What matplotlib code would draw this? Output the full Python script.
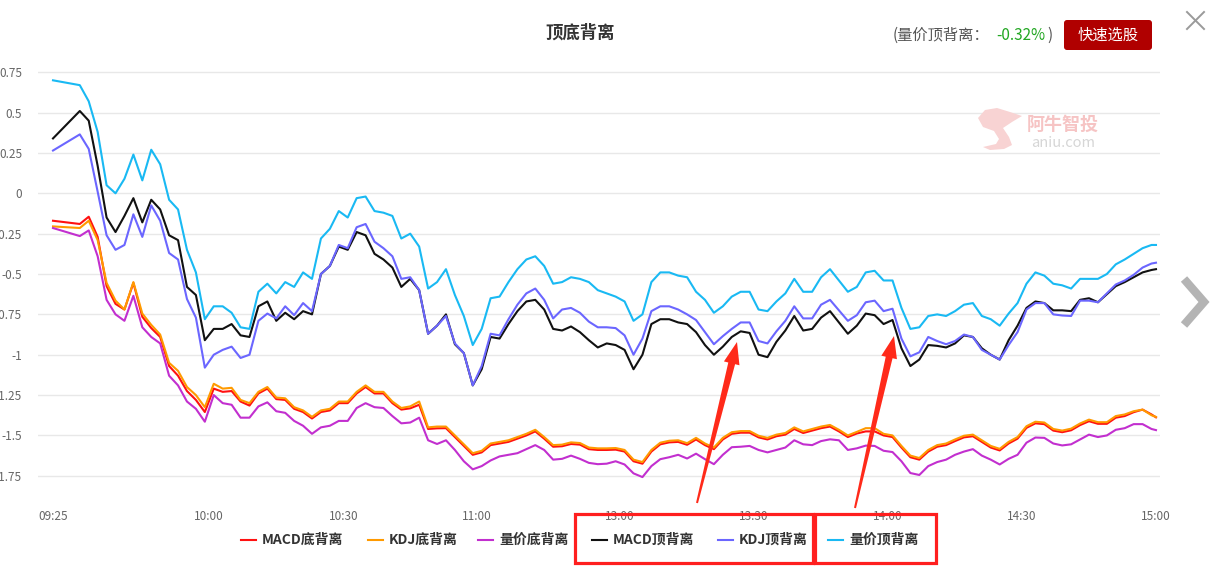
import matplotlib
matplotlib.use("Agg")
import matplotlib.pyplot as plt
from matplotlib.lines import Line2D
from matplotlib.patches import Rectangle, Polygon, FancyBboxPatch
from matplotlib.transforms import Affine2D
import numpy as np

plt.rcParams['font.family'] = ['Noto Sans CJK SC', 'DejaVu Sans']

W, H = 1220, 568

# minutes after 09:25 (the lunch break is squeezed out, 11:30 ~ 13:00)
minutes = [0] + list(range(6, 247, 2)) + [247]
time_ticks = [0, 35, 65, 95, 127, 157, 187, 217, 247]
time_labels = ['09:25', '10:00', '10:30', '11:00', '13:00', '13:30', '14:00', '14:30', '15:00']
y_ticks = [0.75, 0.5, 0.25, 0, -0.25, -0.5, -0.75, -1, -1.25, -1.5, -1.75]
y_labels = ['0.75', '0.5', '0.25', '0', '-0.25', '-0.5', '-0.75', '-1', '-1.25', '-1.5', '-1.75']

series_names = ['MACD底背离', 'KDJ底背离', '量价底背离', 'MACD顶背离', 'KDJ顶背离', '量价顶背离']
series_colors = ['#ff1111', '#ff9a00', '#c22fcf', '#111111', '#6b66ff', '#19b9f3']

macd_bottom = [
    -0.17, -0.19, -0.145, -0.27, -0.575, -0.685, -0.72, -0.555, -0.765, -0.835,
    -0.89, -1.07, -1.13, -1.225, -1.28, -1.355, -1.21, -1.23, -1.225, -1.29,
    -1.315, -1.24, -1.21, -1.275, -1.28, -1.335, -1.355, -1.395, -1.355, -1.345,
    -1.30, -1.30, -1.24, -1.20, -1.24, -1.24, -1.30, -1.34, -1.332, -1.31,
    -1.46, -1.456, -1.455, -1.51, -1.565, -1.62, -1.605, -1.56, -1.55, -1.54,
    -1.52, -1.50, -1.475, -1.52, -1.57, -1.567, -1.553, -1.557, -1.585, -1.59,
    -1.59, -1.588, -1.60, -1.66, -1.675, -1.60, -1.555, -1.543, -1.54, -1.558,
    -1.525, -1.56, -1.585, -1.525, -1.49, -1.483, -1.483, -1.512, -1.525, -1.505,
    -1.495, -1.46, -1.485, -1.47, -1.455, -1.445, -1.475, -1.51, -1.488, -1.475,
    -1.475, -1.50, -1.51, -1.575, -1.635, -1.65, -1.60, -1.57, -1.56, -1.535,
    -1.512, -1.505, -1.54, -1.575, -1.593, -1.55, -1.52, -1.453, -1.425, -1.43,
    -1.47, -1.48, -1.468, -1.436, -1.412, -1.428, -1.428, -1.39, -1.38, -1.356,
    -1.34, -1.37, -1.388,
]
kdj_bottom = [
    -0.205, -0.215, -0.17, -0.29, -0.555, -0.665, -0.72, -0.55, -0.745, -0.815,
    -0.875, -1.05, -1.10, -1.20, -1.25, -1.325, -1.18, -1.21, -1.205, -1.28,
    -1.30, -1.23, -1.20, -1.265, -1.27, -1.325, -1.345, -1.385, -1.345, -1.335,
    -1.29, -1.29, -1.23, -1.19, -1.23, -1.23, -1.29, -1.33, -1.32, -1.29,
    -1.45, -1.445, -1.445, -1.50, -1.555, -1.61, -1.595, -1.55, -1.54, -1.53,
    -1.51, -1.49, -1.465, -1.51, -1.56, -1.557, -1.543, -1.547, -1.575, -1.58,
    -1.58, -1.578, -1.59, -1.65, -1.665, -1.59, -1.545, -1.533, -1.53, -1.548,
    -1.515, -1.55, -1.575, -1.515, -1.48, -1.473, -1.473, -1.502, -1.515, -1.495,
    -1.485, -1.45, -1.475, -1.46, -1.445, -1.435, -1.465, -1.50, -1.478, -1.455,
    -1.455, -1.49, -1.50, -1.565, -1.625, -1.64, -1.59, -1.56, -1.55, -1.525,
    -1.502, -1.495, -1.53, -1.565, -1.583, -1.54, -1.51, -1.443, -1.415, -1.42,
    -1.46, -1.47, -1.458, -1.426, -1.402, -1.418, -1.418, -1.38, -1.37, -1.35,
    -1.34, -1.375, -1.385,
]
vol_bottom = [
    -0.215, -0.265, -0.23, -0.39, -0.66, -0.75, -0.79, -0.635, -0.83, -0.89,
    -0.93, -1.13, -1.19, -1.29, -1.335, -1.415, -1.25, -1.30, -1.31, -1.39,
    -1.39, -1.32, -1.295, -1.35, -1.36, -1.41, -1.44, -1.49, -1.45, -1.44,
    -1.41, -1.41, -1.33, -1.30, -1.325, -1.33, -1.38, -1.425, -1.42, -1.39,
    -1.53, -1.553, -1.53, -1.59, -1.66, -1.71, -1.69, -1.655, -1.63, -1.62,
    -1.61, -1.585, -1.56, -1.59, -1.65, -1.645, -1.625, -1.645, -1.67, -1.678,
    -1.675, -1.66, -1.68, -1.735, -1.758, -1.69, -1.647, -1.635, -1.62, -1.643,
    -1.613, -1.647, -1.678, -1.62, -1.573, -1.57, -1.565, -1.59, -1.605, -1.59,
    -1.575, -1.53, -1.555, -1.56, -1.535, -1.524, -1.53, -1.59, -1.58, -1.563,
    -1.565, -1.595, -1.603, -1.66, -1.733, -1.745, -1.69, -1.665, -1.65, -1.62,
    -1.60, -1.585, -1.625, -1.65, -1.68, -1.645, -1.62, -1.545, -1.513, -1.515,
    -1.55, -1.562, -1.555, -1.525, -1.495, -1.51, -1.50, -1.465, -1.455, -1.43,
    -1.43, -1.46, -1.467,
]
macd_top = [
    0.34, 0.51, 0.45, 0.17, -0.15, -0.24, -0.14, -0.03, -0.18, -0.04,
    -0.10, -0.26, -0.29, -0.58, -0.63, -0.91, -0.84, -0.84, -0.81, -0.88,
    -0.89, -0.70, -0.67, -0.79, -0.74, -0.78, -0.73, -0.75, -0.50, -0.45,
    -0.33, -0.35, -0.24, -0.26, -0.375, -0.41, -0.46, -0.58, -0.53, -0.60,
    -0.87, -0.82, -0.75, -0.935, -0.99, -1.19, -1.09, -0.89, -0.90, -0.81,
    -0.73, -0.67, -0.66, -0.72, -0.84, -0.85, -0.825, -0.86, -0.91, -0.955,
    -0.93, -0.94, -0.97, -1.09, -1.00, -0.81, -0.78, -0.78, -0.80, -0.81,
    -0.86, -0.94, -1.00, -0.95, -0.89, -0.855, -0.865, -1.00, -1.015, -0.92,
    -0.85, -0.76, -0.85, -0.84, -0.77, -0.73, -0.80, -0.87, -0.82, -0.745,
    -0.755, -0.81, -0.785, -0.96, -1.07, -1.03, -0.94, -0.945, -0.955, -0.93,
    -0.88, -0.89, -0.96, -1.00, -1.03, -0.91, -0.82, -0.71, -0.67, -0.68,
    -0.725, -0.725, -0.73, -0.66, -0.65, -0.675, -0.625, -0.575, -0.55, -0.52,
    -0.49, -0.475, -0.47,
]
kdj_top = [
    0.265, 0.365, 0.275, 0.01, -0.26, -0.35, -0.32, -0.13, -0.27, -0.075,
    -0.17, -0.37, -0.41, -0.655, -0.77, -1.08, -1.00, -0.97, -0.95, -1.02,
    -1.00, -0.79, -0.745, -0.775, -0.70, -0.755, -0.68, -0.73, -0.50, -0.45,
    -0.32, -0.34, -0.21, -0.19, -0.30, -0.34, -0.39, -0.53, -0.52, -0.60,
    -0.87, -0.82, -0.76, -0.93, -0.99, -1.19, -1.07, -0.87, -0.88, -0.78,
    -0.69, -0.62, -0.59, -0.66, -0.775, -0.72, -0.71, -0.74, -0.795, -0.83,
    -0.83, -0.835, -0.88, -1.00, -0.90, -0.73, -0.70, -0.70, -0.72, -0.75,
    -0.785, -0.86, -0.935, -0.885, -0.84, -0.80, -0.80, -0.915, -0.93, -0.855,
    -0.79, -0.70, -0.775, -0.775, -0.69, -0.66, -0.725, -0.79, -0.755, -0.675,
    -0.665, -0.73, -0.715, -0.90, -1.01, -0.985, -0.89, -0.915, -0.935, -0.915,
    -0.875, -0.89, -0.97, -1.00, -1.03, -0.94, -0.86, -0.72, -0.68, -0.68,
    -0.75, -0.757, -0.76, -0.665, -0.665, -0.675, -0.62, -0.565, -0.54, -0.505,
    -0.46, -0.435, -0.43,
]
vol_top = [
    0.70, 0.67, 0.57, 0.38, 0.05, 0.0, 0.09, 0.24, 0.08, 0.27,
    0.18, -0.04, -0.10, -0.35, -0.49, -0.78, -0.70, -0.70, -0.74, -0.83,
    -0.84, -0.61, -0.56, -0.62, -0.55, -0.58, -0.49, -0.53, -0.28, -0.22,
    -0.11, -0.15, -0.03, -0.02, -0.11, -0.12, -0.14, -0.28, -0.25, -0.33,
    -0.59, -0.55, -0.47, -0.63, -0.76, -0.94, -0.84, -0.65, -0.64, -0.55,
    -0.47, -0.41, -0.39, -0.45, -0.56, -0.55, -0.52, -0.53, -0.55, -0.60,
    -0.62, -0.64, -0.67, -0.79, -0.75, -0.55, -0.49, -0.49, -0.51, -0.52,
    -0.61, -0.66, -0.74, -0.70, -0.64, -0.61, -0.61, -0.72, -0.73, -0.67,
    -0.62, -0.53, -0.61, -0.61, -0.52, -0.47, -0.54, -0.61, -0.58, -0.49,
    -0.48, -0.54, -0.54, -0.71, -0.84, -0.83, -0.76, -0.75, -0.76, -0.73,
    -0.69, -0.68, -0.76, -0.78, -0.82, -0.745, -0.68, -0.56, -0.49, -0.51,
    -0.56, -0.57, -0.59, -0.53, -0.53, -0.53, -0.50, -0.44, -0.41, -0.375,
    -0.34, -0.32, -0.32,
]
vol_top_pct = '-0.32%'


def arrow_points(tail, tip, head_len=22, head_w=8, neck_w=3.5, tail_w=1.0):
    """Tapered arrow outline in pixel coords"""
    tail = np.array(tail, float)
    tip = np.array(tip, float)
    d = (tip - tail) / np.hypot(*(tip - tail))
    n = np.array([-d[1], d[0]])
    neck = tip - d * head_len
    return [tail + n * tail_w, neck + n * neck_w, neck + n * head_w, tip,
            neck - n * head_w, neck - n * neck_w, tail - n * tail_w]


def main():
    fig = plt.figure(figsize=(W / 100, H / 100), dpi=100)
    fig.patch.set_facecolor('white')
    # pixel coords, origin top-left
    pix = Affine2D().scale(1.0 / W, -1.0 / H).translate(0, 1) + fig.transFigure

    # plot area: m=0 at x=53px, 4.466 px per minute; 0 at y=193px, 161.4 px per unit
    ax = fig.add_axes([38 / W, 1 - 500 / H, (1160 - 38) / W, (500 - 62) / H])
    ax.set_xlim(-3.36, 247.9)
    ax.set_ylim(-1.900, 0.8135)

    all_series = [macd_bottom, kdj_bottom, vol_bottom, macd_top, kdj_top, vol_top]
    for vals, color in zip(all_series, series_colors):
        ax.plot(minutes, vals, color=color, lw=1.5, solid_joinstyle='round')

    ax.set_yticks(y_ticks)
    ax.set_yticklabels(y_labels)
    ax.set_xticks(time_ticks)
    ax.set_xticklabels(time_labels)
    ax.grid(axis='y', color='#e8e8e8', lw=1)
    ax.set_axisbelow(True)
    ax.tick_params(axis='y', length=0, pad=11.5, labelsize=8.5, labelcolor='#666666')
    ax.tick_params(axis='x', length=0, pad=7, labelsize=8.5, labelcolor='#666666')
    for spine in ax.spines.values():
        spine.set_visible(False)

    # title and header
    fig.text(580, 33, '顶底背离', transform=pix, ha='center', va='center',
             fontsize=12.5, fontweight='bold', color='#333333')
    fig.text(893, 35, '(量价顶背离：', transform=pix, ha='left', va='center',
             fontsize=11, color='#555555')
    fig.text(996, 35, vol_top_pct, transform=pix, ha='left', va='center',
             fontsize=11, color='#22a722')
    fig.text(1047, 35, ')', transform=pix, ha='left', va='center',
             fontsize=11, color='#555555')
    btn = FancyBboxPatch((1064, 20), 88, 30, boxstyle='round,pad=0,rounding_size=3',
                         transform=pix, facecolor='#b00000', edgecolor='none')
    fig.patches.append(btn)
    fig.text(1108, 35, '快速选股', transform=pix, ha='center', va='center',
             fontsize=11, color='white')

    # close cross and right chevron
    fig.add_artist(Line2D([1187, 1204], [12, 29], transform=pix, color='#9a9a9a', lw=1.4))
    fig.add_artist(Line2D([1187, 1204], [29, 12], transform=pix, color='#9a9a9a', lw=1.4))
    fig.add_artist(Line2D([1184, 1204, 1184], [279, 302, 325], transform=pix,
                          color='#b4b4b4', lw=6, solid_joinstyle='miter',
                          solid_capstyle='butt'))

    # watermark
    logo = [(978, 118), (985, 110), (997, 108), (1010, 112), (1022, 116), (1012, 122),
            (1003, 128), (1009, 137), (1012, 145), (1004, 149), (990, 150), (983, 147),
            (996, 144), (999, 139), (994, 131), (983, 127)]
    fig.patches.append(Polygon(logo, closed=True, transform=pix,
                               facecolor='#f8d3d3', edgecolor='none'))
    fig.text(1063, 124, '阿牛智投', transform=pix, ha='center', va='center',
             fontsize=13, fontweight='bold', color='#f6c4c4')
    fig.text(1063, 143, 'aniu.com', transform=pix, ha='center', va='center',
             fontsize=10.5, color='#d6d6d6')

    # legend
    legend_x = [241, 368, 478, 592, 718, 828]
    for name, color, x0 in zip(series_names, series_colors, legend_x):
        fig.add_artist(Line2D([x0, x0 + 15], [540, 540], transform=pix, color=color, lw=1.5))
        fig.text(x0 + 21, 540, name, transform=pix, ha='left', va='center',
                 fontsize=10, fontweight='bold', color='#333333')

    # red highlight boxes and arrows
    for (x, y, w, h) in [(575, 514, 238, 49), (815, 514, 121, 49)]:
        fig.patches.append(Rectangle((x, y), w, h, transform=pix, fill=False,
                                     edgecolor='#ff1f1f', lw=2.3))
    for tail, tip in [((697, 503), (737, 342)), ((855, 508), (894, 336))]:
        fig.patches.append(Polygon(arrow_points(tail, tip), closed=True, transform=pix,
                                   facecolor='#ff2a1a', edgecolor='none'))

    fig.savefig('out.png', dpi=100, facecolor='white')


if __name__ == '__main__':
    main()
